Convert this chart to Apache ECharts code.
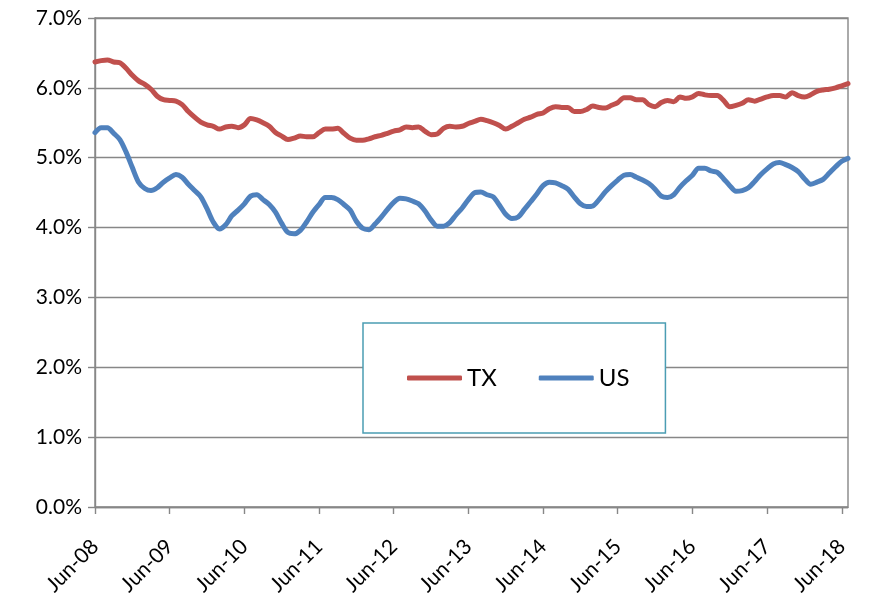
<!DOCTYPE html>
<html>
<head>
<meta charset="utf-8">
<script src="https://cdn.jsdelivr.net/npm/echarts@6/dist/echarts.min.js"></script>
<style>
html,body{margin:0;padding:0;background:#fff;}
#chart{width:869px;height:598px;}
</style>
</head>
<body>
<div id="chart"></div>
<script>
// Monthly categories Jun-08 .. Jul-18
const monthNames = ['Jan','Feb','Mar','Apr','May','Jun','Jul','Aug','Sep','Oct','Nov','Dec'];
const categories = [];
for (let i = 0; i < 122; i++) {
  const m = (5 + i) % 12;
  const y = 8 + Math.floor((5 + i) / 12);
  categories.push(monthNames[m] + '-' + String(y).padStart(2, '0'));
}

const txValues = [
  6.37,6.39,6.40,6.37,6.36,6.28,6.18,6.10,6.05,5.98,5.88,5.83,
  5.82,5.81,5.76,5.66,5.58,5.51,5.47,5.45,5.41,5.44,5.45,5.43,
  5.47,5.56,5.54,5.50,5.45,5.36,5.31,5.26,5.28,5.31,5.30,5.30,
  5.36,5.41,5.41,5.42,5.35,5.28,5.25,5.25,5.27,5.30,5.32,5.35,
  5.38,5.40,5.44,5.43,5.44,5.38,5.33,5.34,5.42,5.45,5.44,5.45,
  5.49,5.52,5.55,5.53,5.50,5.46,5.41,5.45,5.50,5.55,5.58,5.62,
  5.64,5.70,5.73,5.72,5.72,5.66,5.66,5.69,5.74,5.72,5.71,5.75,
  5.79,5.86,5.86,5.83,5.83,5.76,5.73,5.79,5.82,5.80,5.87,5.85,
  5.87,5.92,5.90,5.89,5.89,5.82,5.73,5.75,5.78,5.83,5.81,5.84,
  5.87,5.89,5.89,5.87,5.93,5.89,5.87,5.90,5.95,5.97,5.98,6.00,
  6.03,6.06
];

const usValues = [
  5.36,5.43,5.43,5.35,5.26,5.08,4.86,4.65,4.56,4.53,4.57,4.65,
  4.71,4.76,4.72,4.62,4.53,4.44,4.27,4.08,3.98,4.04,4.17,4.25,
  4.34,4.45,4.47,4.40,4.33,4.22,4.06,3.93,3.91,3.96,4.08,4.22,
  4.33,4.43,4.43,4.40,4.33,4.25,4.09,3.99,3.97,4.05,4.15,4.26,
  4.36,4.42,4.41,4.38,4.34,4.24,4.11,4.02,4.02,4.07,4.18,4.28,
  4.40,4.50,4.51,4.47,4.44,4.32,4.19,4.13,4.15,4.26,4.37,4.48,
  4.60,4.65,4.64,4.60,4.55,4.44,4.34,4.30,4.31,4.40,4.51,4.60,
  4.68,4.75,4.76,4.72,4.68,4.63,4.55,4.45,4.43,4.47,4.58,4.67,
  4.75,4.85,4.85,4.81,4.79,4.70,4.60,4.52,4.53,4.57,4.66,4.76,
  4.84,4.91,4.93,4.90,4.86,4.80,4.70,4.62,4.65,4.69,4.78,4.87,
  4.95,4.99
];

const yTicks = [0,1,2,3,4,5,6,7];

const chart = echarts.init(document.getElementById('chart'));
const font = 'Lato, "Open Sans", sans-serif';
const axisGray = '#878787';
chart.setOption({
  animation: false,
  backgroundColor: '#fff',
  grid: {
    left: 95, right: 21, top: 18, bottom: 91,
    show: true, borderColor: axisGray, borderWidth: 1.4
  },
  legend: {
    data: ['TX', 'US'],
    left: 363, top: 323,
    padding: [43, 36, 43, 44],
    borderColor: '#4b9db3', borderWidth: 1.5,
    backgroundColor: '#fff',
    icon: 'roundRect',
    itemWidth: 55, itemHeight: 5, itemGap: 42,
    textStyle: { fontSize: 24, color: '#000', fontFamily: font }
  },
  xAxis: {
    type: 'category',
    data: categories,
    boundaryGap: false,
    axisLine: { lineStyle: { color: axisGray, width: 1.4 } },
    axisTick: { show: true, interval: 11, length: 7, lineStyle: { color: axisGray, width: 1.4 } },
    axisLabel: {
      interval: 11, rotate: 45, margin: 36,
      fontSize: 21, color: '#000', fontFamily: font
    },
    splitLine: { show: false }
  },
  yAxis: {
    type: 'value',
    min: yTicks[0], max: yTicks[yTicks.length - 1], interval: 1,
    axisLine: { show: true, lineStyle: { color: axisGray, width: 1.4 } },
    axisTick: { show: true, length: 7, lineStyle: { color: axisGray, width: 1.4 } },
    axisLabel: {
      margin: 13, fontSize: 21, color: '#000', fontFamily: font,
      formatter: v => v.toFixed(1) + '%'
    },
    splitLine: { show: true, lineStyle: { color: axisGray, width: 1.4 } }
  },
  series: [
    {
      name: 'TX', type: 'line', data: txValues,
      symbol: 'none', smooth: 0.3,
      lineStyle: { color: '#c0504d', width: 5, cap: 'round', join: 'round' },
      itemStyle: { color: '#c0504d' }
    },
    {
      name: 'US', type: 'line', data: usValues,
      symbol: 'none', smooth: 0.3,
      lineStyle: { color: '#4f81bd', width: 5, cap: 'round', join: 'round' },
      itemStyle: { color: '#4f81bd' }
    }
  ]
});
</script>
</body>
</html>
